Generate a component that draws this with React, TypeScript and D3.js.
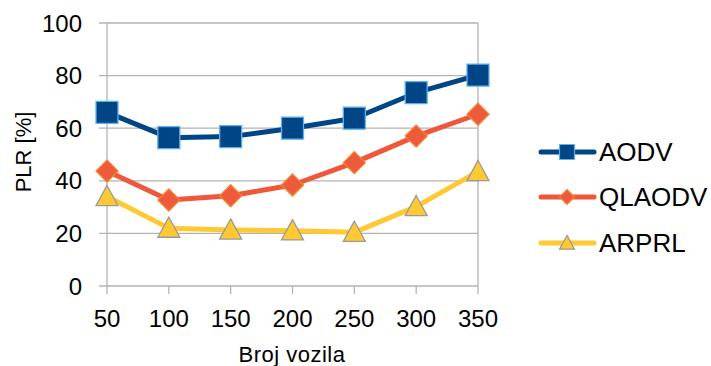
import React from "react";
import * as d3 from "d3";

const categories = [50, 100, 150, 200, 250, 300, 350];
const aodv = [66, 56.4, 56.8, 60, 63.8, 73.5, 80.2];
const qlaodv = [43.7, 32.7, 34.3, 38.4, 46.9, 57, 65.3];
const arprl = [34, 22, 21.3, 21, 20.4, 30.2, 43.5];
const yTicks = [0, 20, 40, 60, 80, 100];
const seriesNames = ["AODV", "QLAODV", "ARPRL"];

const W = 711;
const H = 366;
const left = 107;
const right = 478;
const top = 23;
const bottom = 286;
const FONT = "'Liberation Sans', Arial, sans-serif";

const x = d3.scaleLinear().domain([50, 350]).range([left, right]);
const y = d3.scaleLinear().domain([0, 100]).range([bottom, top]);

type Shape = "square" | "diamond" | "triangle";
const styles = [
  { line: "#004586", fill: "#004586", stroke: "#5eb1e8", shape: "square" as Shape },
  { line: "#f0563a", fill: "#ee5a3c", stroke: "#f58232", shape: "diamond" as Shape },
  { line: "#ffc933", fill: "#ffc933", stroke: "#9a9a9a", shape: "triangle" as Shape },
];

function markerPath(shape: Shape, s: number): string {
  const h = s / 2;
  if (shape === "square") return `M${-h},${-h}H${h}V${h}H${-h}Z`;
  if (shape === "diamond") return `M0,${-h}L${h},0L0,${h}L${-h},0Z`;
  const th = s * 0.92;
  return `M0,${-th * 0.55}L${h},${th * 0.45}L${-h},${th * 0.45}Z`;
}

export default function App() {
  const data = [aodv, qlaodv, arprl];
  const line = d3
    .line<number>()
    .x((_, i) => x(categories[i]))
    .y((d) => y(d));
  const legendY = [152, 197, 243];
  return (
    <svg
      width={W}
      height={H}
      style={{ position: "absolute", left: 0, top: 0, background: "#fff" }}
      fontFamily={FONT}
    >
      {yTicks.map((t) => (
        <g key={t}>
          <line x1={99} x2={right} y1={y(t)} y2={y(t)} stroke="#b3b3b3" strokeWidth={1.3} />
          <text
            x={82}
            y={y(t)}
            textAnchor="end"
            dominantBaseline="central"
            fontSize={24}
            fill="#000"
          >
            {t}
          </text>
        </g>
      ))}
      <line x1={left} x2={left} y1={top} y2={bottom} stroke="#b3b3b3" strokeWidth={1.3} />
      <line x1={right} x2={right} y1={top} y2={bottom} stroke="#b3b3b3" strokeWidth={1.3} />
      {categories.map((c) => (
        <g key={c}>
          <line x1={x(c)} x2={x(c)} y1={bottom} y2={294} stroke="#b3b3b3" strokeWidth={1.3} />
          <text x={x(c)} y={327} textAnchor="middle" fontSize={24} fill="#000">
            {c}
          </text>
        </g>
      ))}
      <text x={292} y={362} textAnchor="middle" fontSize={22} letterSpacing={0.5} fill="#000">
        Broj vozila
      </text>
      <text
        transform={`translate(23,152) rotate(-90)`}
        textAnchor="middle"
        dominantBaseline="central"
        fontSize={22}
        fill="#000"
      >
        PLR [%]
      </text>
      {data.map((vals, si) => (
        <g key={si}>
          <path
            d={line(vals) || ""}
            fill="none"
            stroke={styles[si].line}
            strokeWidth={5}
            strokeLinejoin="round"
            strokeLinecap="round"
          />
          {vals.map((v, i) => (
            <path
              key={i}
              transform={`translate(${x(categories[i])},${y(v)})`}
              d={markerPath(styles[si].shape, 22)}
              fill={styles[si].fill}
              stroke={styles[si].stroke}
              strokeWidth={1.3}
            />
          ))}
        </g>
      ))}
      {seriesNames.map((n, si) => (
        <g key={n} transform={`translate(0,${legendY[si]})`}>
          <line
            x1={541}
            x2={594}
            y1={0}
            y2={0}
            stroke={styles[si].line}
            strokeWidth={5}
            strokeLinecap="round"
          />
          <path
            transform={`translate(567,0)`}
            d={markerPath(styles[si].shape, 15)}
            fill={styles[si].fill}
            stroke={styles[si].stroke}
            strokeWidth={1.2}
          />
          <text x={599} y={0} dominantBaseline="central" fontSize={26} fill="#000">
            {n}
          </text>
        </g>
      ))}
    </svg>
  );
}
